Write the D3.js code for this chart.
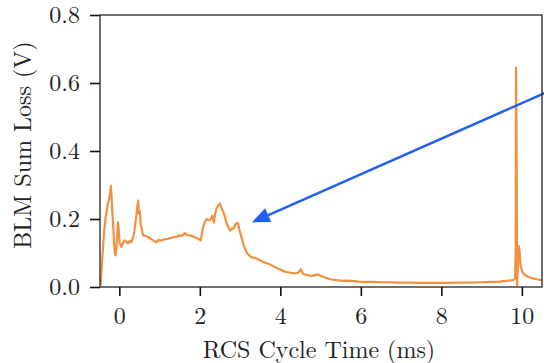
<!DOCTYPE html>
<html>
<head>
<meta charset="utf-8">
<script src="https://cdn.jsdelivr.net/npm/d3@7"></script>
<style>
  html, body { margin: 0; padding: 0; background: #fff; }
  svg { display: block; }
  text { font-family: "Latin Modern Roman", "Liberation Serif", serif; fill: #222; }
</style>
</head>
<body>
<svg id="chart" width="544" height="363"></svg>
<script>
// BLM summed loss signal over one RCS cycle
const timeMs = [
  -0.47, -0.46, -0.42, -0.38, -0.34, -0.31, -0.29, -0.26, -0.245, -0.22, -0.21, -0.19, -0.17, -0.15, -0.13, -0.11, -0.095, -0.07, -0.045, -0.03,
  -0.01, 0.01, 0.055, 0.09, 0.137, 0.18, 0.22, 0.26, 0.30, 0.34, 0.37, 0.40, 0.43, 0.45, 0.47, 0.49, 0.51, 0.53, 0.56, 0.59,
  0.65, 0.72, 0.78, 0.84, 0.88, 0.92, 0.97, 1.05, 1.12, 1.21, 1.30, 1.38, 1.44, 1.50, 1.56, 1.63, 1.68, 1.75, 1.85, 1.96,
  2.02, 2.05, 2.08, 2.12, 2.17, 2.21, 2.25, 2.29, 2.31, 2.35, 2.38, 2.41, 2.46, 2.50, 2.54, 2.57, 2.60, 2.66, 2.70, 2.75,
  2.80, 2.83, 2.89, 2.95, 2.98, 3.01, 3.05, 3.09, 3.14, 3.18, 3.28, 3.41, 3.50, 3.57, 3.66, 3.74, 3.86, 3.98, 4.11, 4.25,
  4.36, 4.44, 4.48, 4.51, 4.54, 4.57, 4.68, 4.78, 4.86, 4.94, 5.00, 5.06, 5.15, 5.27, 5.40, 5.52, 5.65, 5.77, 5.95, 6.10,
  6.30, 6.51, 6.70, 6.93, 7.2, 7.5, 7.8, 8.1, 8.4, 8.7, 9.0, 9.2, 9.45, 9.6, 9.78, 9.83, 9.845, 9.855, 9.87, 9.88,
  9.90, 9.92, 9.94, 9.97, 10.03, 10.12, 10.20, 10.28, 10.40, 10.49, 10.55
];
const lossV = [
  0.005, 0.015, 0.09, 0.16, 0.205, 0.225, 0.244, 0.255, 0.264, 0.285, 0.298, 0.26, 0.21, 0.176, 0.13, 0.098, 0.093, 0.12, 0.165, 0.19,
  0.16, 0.128, 0.118, 0.13, 0.137, 0.133, 0.128, 0.136, 0.132, 0.145, 0.161, 0.19, 0.215, 0.24, 0.254, 0.216, 0.222, 0.186, 0.17, 0.152,
  0.15, 0.147, 0.142, 0.137, 0.134, 0.132, 0.138, 0.137, 0.14, 0.142, 0.145, 0.147, 0.148, 0.152, 0.15, 0.159, 0.153, 0.152, 0.148, 0.142,
  0.137, 0.155, 0.176, 0.19, 0.20, 0.197, 0.196, 0.205, 0.21, 0.19, 0.215, 0.23, 0.24, 0.246, 0.23, 0.225, 0.215, 0.19, 0.178, 0.166,
  0.172, 0.171, 0.186, 0.188, 0.17, 0.157, 0.14, 0.123, 0.108, 0.098, 0.088, 0.084, 0.078, 0.074, 0.070, 0.067, 0.059, 0.052, 0.045, 0.042,
  0.040, 0.042, 0.047, 0.052, 0.044, 0.038, 0.035, 0.032, 0.035, 0.037, 0.033, 0.030, 0.026, 0.022, 0.020, 0.018, 0.019, 0.018, 0.016, 0.015,
  0.015, 0.014, 0.014, 0.013, 0.013, 0.012, 0.012, 0.012, 0.013, 0.013, 0.014, 0.015, 0.016, 0.018, 0.02, 0.025, 0.10, 0.645, 0.40, 0.005,
  0.06, 0.12, 0.11, 0.06, 0.04, 0.032, 0.028, 0.025, 0.022, 0.02, 0.019
];
const xTicks = [0, 2, 4, 6, 8, 10];
const yTicks = [0.0, 0.2, 0.4, 0.6, 0.8];
// annotation arrow: tail (off to the right) and head, in data units
const arrowFrom = [10.6, 0.572];
const arrowTo = [3.29, 0.19];

const svg = d3.select("#chart");
const m = { left: 100, right: 2, top: 15, bottom: 76 };
const W = 544, H = 363;

const x = d3.scaleLinear().domain([-0.48, 10.5]).range([m.left, W - m.right]);
const y = d3.scaleLinear().domain([0, 0.8]).range([H - m.bottom, m.top]);

const clipId = "plot-clip";
svg.append("defs").append("clipPath").attr("id", clipId)
  .append("rect")
  .attr("x", m.left).attr("y", m.top)
  .attr("width", W - m.right - m.left).attr("height", H - m.bottom - m.top);

// signal trace
const pts = timeMs.map((t, i) => [t, lossV[i]]);
svg.append("path")
  .datum(pts)
  .attr("clip-path", `url(#${clipId})`)
  .attr("fill", "none")
  .attr("stroke", "#f39040")
  .attr("stroke-width", 2.2)
  .attr("stroke-linejoin", "round")
  .attr("d", d3.line().x(d => x(d[0])).y(d => y(d[1])));

// arrow
const x0 = x(arrowFrom[0]), y0 = y(arrowFrom[1]);
const x1 = x(arrowTo[0]), y1 = y(arrowTo[1]);
const len = Math.hypot(x0 - x1, y0 - y1);
const ux = (x0 - x1) / len, uy = (y0 - y1) / len;
const headL = 18, headW = 7.5;
svg.append("line")
  .attr("x1", x0).attr("y1", y0)
  .attr("x2", x1 + ux * headL * 0.8).attr("y2", y1 + uy * headL * 0.8)
  .attr("stroke", "#1f5ff5").attr("stroke-width", 2.4);
const bx = x1 + ux * headL, by = y1 + uy * headL;
svg.append("path")
  .attr("d", `M${x1},${y1}L${bx - uy * headW},${by + ux * headW}L${bx + uy * headW},${by - ux * headW}Z`)
  .attr("fill", "#1f5ff5");

// frame
svg.append("rect")
  .attr("x", m.left).attr("y", m.top)
  .attr("width", W - m.right - m.left).attr("height", H - m.bottom - m.top)
  .attr("fill", "none").attr("stroke", "#333").attr("stroke-width", 1.4);

// axes
const xAxis = svg.append("g")
  .attr("transform", `translate(0,${H - m.bottom})`)
  .call(d3.axisBottom(x).tickValues(xTicks).tickFormat(d3.format("d")).tickSize(9).tickPadding(11));
const yAxis = svg.append("g")
  .attr("transform", `translate(${m.left},0)`)
  .call(d3.axisLeft(y).tickValues(yTicks).tickFormat(d3.format(".1f")).tickSize(10).tickPadding(10));
[xAxis, yAxis].forEach(g => {
  g.select(".domain").remove();
  g.selectAll(".tick line").attr("stroke", "#111").attr("stroke-width", 1.6);
  g.selectAll(".tick text").attr("font-size", 24)
    .style("font-family", "'Latin Modern Roman', 'Liberation Serif', serif").attr("fill", "#222");
});

// axis titles
svg.append("text")
  .attr("x", (m.left + W - m.right) / 2 - 2)
  .attr("y", 358)
  .attr("text-anchor", "middle")
  .attr("font-size", 24)
  .text("RCS Cycle Time (ms)");
svg.append("text")
  .attr("transform", `translate(31,${(m.top + H - m.bottom) / 2 - 6}) rotate(-90)`)
  .attr("text-anchor", "middle")
  .attr("font-size", 24)
  .text("BLM Sum Loss (V)");
</script>
</body>
</html>
